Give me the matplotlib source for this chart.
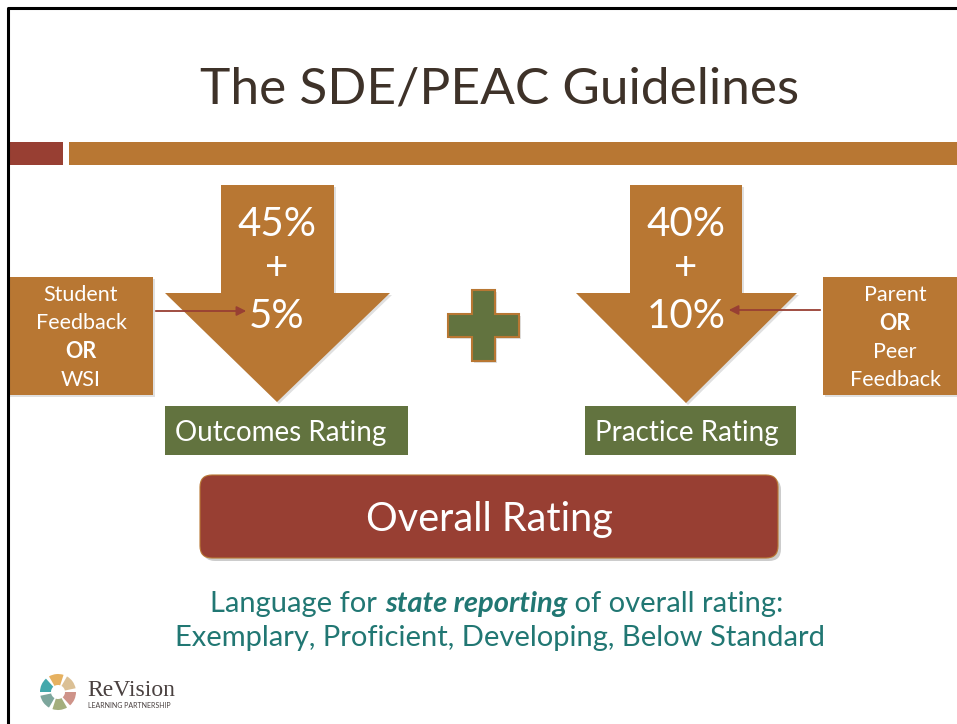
import matplotlib
matplotlib.use("Agg")
import matplotlib.pyplot as plt
from matplotlib.patches import Polygon, Rectangle, FancyBboxPatch, Wedge

# slide content
title = "The SDE/PEAC Guidelines"
left_arrow_lines = ["45%", "+", "5%"]
right_arrow_lines = ["40%", "+", "10%"]
left_box_lines = ["Student", "Feedback", "OR", "WSI"]
right_box_lines = ["Parent", "OR", "Peer", "Feedback"]
bold_words = ["OR"]
rating_labels = ["Outcomes Rating", "Practice Rating"]
overall_label = "Overall Rating"
note_pieces = [("Language for ", "normal"), ("state reporting", "bold"), (" of overall rating:", "normal")]
note_line2 = "Exemplary, Proficient, Developing, Below Standard"

ORANGE = "#B87733"
RED = "#983F33"
GREEN = "#62733F"
BROWN = "#3E3229"
TEAL = "#217773"
FONT = "Lato"

fig = plt.figure(figsize=(9.57, 7.24), dpi=100)
ax = fig.add_axes([0, 0, 1, 1])
ax.set_xlim(0, 957)
ax.set_ylim(724, 0)
ax.axis("off")

# slide frame
ax.plot([7.5, 7.5, 957], [724, 8, 8], color="black", lw=2.2, solid_capstyle="butt")

ax.text(500, 90, title, ha="center", va="center", fontsize=37, color=BROWN, family=FONT)
ax.add_patch(Rectangle((8, 142), 55, 23, color=RED, lw=0))
ax.add_patch(Rectangle((69, 142), 888, 23, color=ORANGE, lw=0))


def shadowed(patch_fn, off=2, alpha=0.12, **kw):
    sh = patch_fn(off, off)
    sh.set_facecolor("#000000")
    sh.set_alpha(alpha)
    sh.set_edgecolor("none")
    ax.add_patch(sh)
    p = patch_fn(0, 0)
    for k, v in kw.items():
        getattr(p, "set_" + k)(v)
    ax.add_patch(p)


def down_arrow(sx0, sx1, hx0, hx1, tip_x, top, head_y, tip_y):
    def make(dx, dy):
        pts = [(sx0, top), (sx1, top), (sx1, head_y), (hx1, head_y), (tip_x, tip_y),
               (hx0, head_y), (sx0, head_y)]
        return Polygon([(x + dx, y + dy) for x, y in pts], closed=True)
    shadowed(make, facecolor=ORANGE, edgecolor="none")


down_arrow(221, 334, 165, 390, 277, 185, 293, 402)
down_arrow(630, 742, 576, 797, 686, 185, 293, 403)

for cx, lines in [(277, left_arrow_lines), (686, right_arrow_lines)]:
    for y, s in zip([225, 268, 316], lines):
        ax.text(cx, y, s, ha="center", va="center", fontsize=29, color="white", family=FONT)

# side boxes
for x0, x1, cx, lines in [(8, 153, 81, left_box_lines), (823, 960, 895, right_box_lines)]:
    shadowed(lambda dx, dy: Rectangle((x0 + dx, 277 + dy), x1 - x0, 118), facecolor=ORANGE, edgecolor="none")
    for y, s in zip([295, 323, 352, 380], lines):
        ax.text(cx, y, s, ha="center", va="center", fontsize=15.5, color="white", family=FONT,
                fontweight="bold" if s in bold_words else "normal")

# small feeder arrows
ax.annotate("", xy=(249, 311), xytext=(153, 311),
            arrowprops=dict(arrowstyle="-|>", color=RED, lw=1.3, mutation_scale=14))
ax.annotate("", xy=(726, 310), xytext=(823, 310),
            arrowprops=dict(arrowstyle="-|>", color=RED, lw=1.3, mutation_scale=14))

# plus sign
plus = [(472, 290), (495, 290), (495, 314), (519, 314), (519, 337), (495, 337), (495, 361),
        (472, 361), (472, 337), (448, 337), (448, 314), (472, 314)]
shadowed(lambda dx, dy: Polygon([(x + dx, y + dy) for x, y in plus], closed=True),
         facecolor=GREEN, edgecolor=ORANGE, linewidth=1.5)

# rating boxes
for (x0, x1), lab in zip([(165, 408), (585, 796)], rating_labels):
    ax.add_patch(Rectangle((x0, 406), x1 - x0, 49, color=GREEN, lw=0))
    ax.text(x0 + 10, 433, lab, ha="left", va="center", fontsize=20, color="white", family=FONT)

# overall rating
shadowed(lambda dx, dy: FancyBboxPatch((200 + dx, 475 + dy), 578, 83,
                                       boxstyle="round,pad=0,rounding_size=12"),
         off=3, alpha=0.2, facecolor=RED, edgecolor=ORANGE, linewidth=0.8)
ax.text(489, 520, overall_label, ha="center", va="center", fontsize=28.5, color="white", family=FONT)

# note text, first line has a bold italic phrase
fig.canvas.draw()
renderer = fig.canvas.get_renderer()
pieces = []
for s, w in note_pieces:
    t = ax.text(0, 604, s, ha="left", va="center", fontsize=21, color=TEAL, family=FONT,
                fontweight=w, fontstyle="italic" if w == "bold" else "normal")
    pieces.append(t)
widths = [t.get_window_extent(renderer).width for t in pieces]
x = 497 - sum(widths) / 2
for t, w in zip(pieces, widths):
    t.set_x(x)
    x += w
ax.text(500, 638, note_line2, ha="center", va="center", fontsize=21, color=TEAL, family=FONT)

# logo
colors = ["#C9877C", "#9AA56F", "#6F9C91", "#2E9FA3", "#E4A94F", "#D8B98A"]
for i, c in enumerate(colors):
    ax.add_patch(Wedge((58, 692), 18, i * 60, i * 60 + 48, width=11, color=c, alpha=0.9, lw=0))
ax.text(87, 690, "ReVision", ha="left", va="center", fontsize=17, color="#4A4140", family="Liberation Serif")
ax.text(88, 705, "LEARNING PARTNERSHIP", ha="left", va="center", fontsize=5, color="#4A4140", family=FONT)

fig.savefig("out.png", dpi=100)
